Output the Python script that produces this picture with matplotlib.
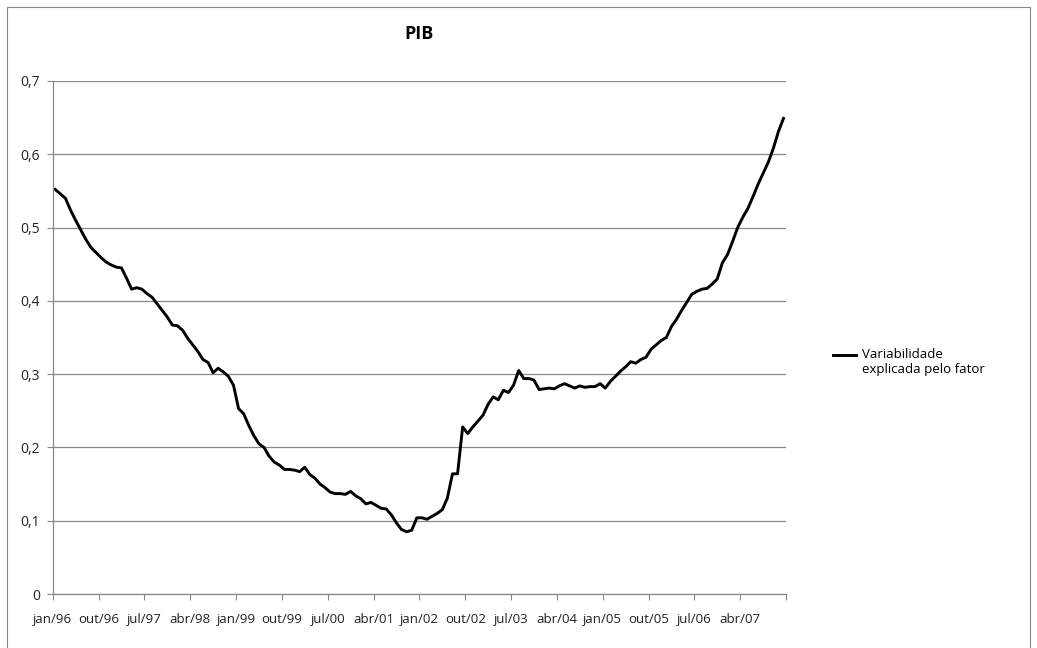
import matplotlib
matplotlib.use("Agg")
import matplotlib.pyplot as plt
from matplotlib.patches import Rectangle
from matplotlib.transforms import Affine2D

plt.rcParams["font.family"] = ["Open Sans", "DejaVu Sans"]

# monthly share of variance explained by the factor, jan/96 .. dez/07
valores = [
    0.552, 0.546, 0.540, 0.524, 0.510, 0.497, 0.484, 0.473, 0.466, 0.459,
    0.453, 0.449, 0.446, 0.445, 0.431, 0.416, 0.418, 0.416, 0.410, 0.405,
    0.396, 0.387, 0.378, 0.367, 0.366, 0.360, 0.349, 0.340, 0.331, 0.320,
    0.316, 0.302, 0.308, 0.303, 0.297, 0.285, 0.253, 0.246, 0.230, 0.216,
    0.205, 0.200, 0.188, 0.180, 0.176, 0.170, 0.170, 0.169, 0.167, 0.173,
    0.163, 0.158, 0.150, 0.145, 0.139, 0.137, 0.137, 0.136, 0.140, 0.134,
    0.130, 0.123, 0.125, 0.121, 0.117, 0.116, 0.108, 0.097, 0.088, 0.085,
    0.087, 0.104, 0.104, 0.102, 0.106, 0.110, 0.115, 0.131, 0.164, 0.164,
    0.228, 0.219, 0.228, 0.236, 0.244, 0.259, 0.269, 0.265, 0.278, 0.275,
    0.285, 0.305, 0.294, 0.294, 0.292, 0.279, 0.280, 0.281, 0.280, 0.284,
    0.287, 0.284, 0.281, 0.284, 0.282, 0.283, 0.283, 0.287, 0.281, 0.290,
    0.297, 0.304, 0.310, 0.317, 0.315, 0.320, 0.323, 0.334, 0.340, 0.346,
    0.350, 0.365, 0.375, 0.387, 0.398, 0.409, 0.413, 0.416, 0.417, 0.423,
    0.430, 0.452, 0.463, 0.481, 0.500, 0.514, 0.526, 0.542, 0.559, 0.574,
    0.589, 0.608, 0.631, 0.649,
]
rotulos_x = ["jan/96", "out/96", "jul/97", "abr/98", "jan/99", "out/99",
             "jul/00", "abr/01", "jan/02", "out/02", "jul/03", "abr/04",
             "jan/05", "out/05", "jul/06", "abr/07"]
rotulos_y = ["0", "0,1", "0,2", "0,3", "0,4", "0,5", "0,6", "0,7"]
serie = "Variabilidade\nexplicada pelo fator"

fig = plt.figure(figsize=(10.37, 6.48), dpi=100)
fig.patches.append(Rectangle((0.007, -0.01), 0.986, 0.999, transform=fig.transFigure,
                             fill=False, edgecolor="#888888", linewidth=0.8))

ax = fig.add_axes([0.0508, 0.0833, 0.7072, 0.7917])
meses = list(range(len(valores)))
linha, = ax.plot(meses, valores, color="black", linewidth=2.1, label=serie)

ax.set_xlim(-0.5, len(valores) - 0.5)
ax.set_ylim(0, 0.7)
ax.set_yticks([i / 10 for i in range(len(rotulos_y))])
ax.set_yticklabels(rotulos_y)
ax.set_xticks([-0.5 + 9 * k for k in range(len(rotulos_x) + 1)])
ax.set_xticklabels(rotulos_x + [""])
ax.tick_params(axis="both", colors="#888888", labelcolor="#222222",
               length=4, width=0.8)
ax.tick_params(axis="x", labelsize=9.5, pad=10)
ax.tick_params(axis="y", labelsize=10, pad=5)

ax.grid(axis="y", color="#888888", linewidth=0.9)
ax.set_axisbelow(True)
for s in ("top", "right"):
    ax.spines[s].set_visible(False)
for s in ("left", "bottom"):
    ax.spines[s].set_color("#888888")
    ax.spines[s].set_linewidth(0.9)

ax.set_title("PIB", fontsize=13, fontweight="bold", pad=30)

leg = fig.legend(handles=[linha], labels=[serie], loc="center left",
                 bbox_to_anchor=(0.792, 0.441), frameon=False, fontsize=9.5,
                 handlelength=1.7, handletextpad=0.5, labelspacing=0.2)
# Excel puts the legend key level with the first text line
for h in leg.get_lines():
    h.set_transform(h.get_transform() + Affine2D().translate(0, 8))

fig.savefig("out.png", dpi=100)
